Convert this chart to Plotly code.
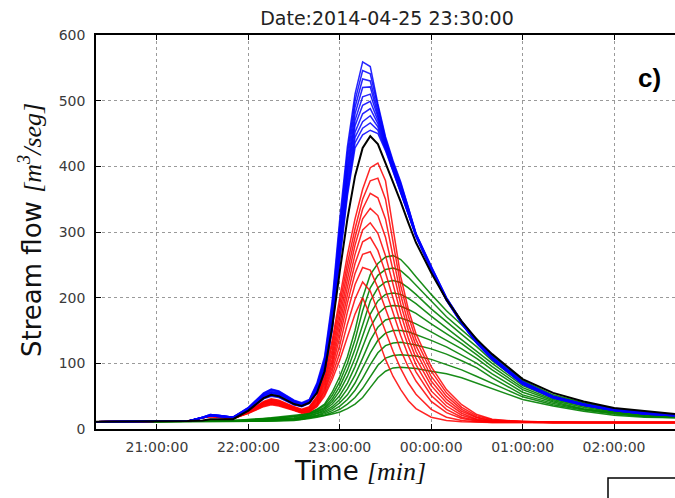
import datetime as dt
import plotly.graph_objects as go

# ---------------- data (minutes after 2014-04-25 20:00) ----------------
T_MIN = [20, 60, 80, 90, 95, 100, 110, 120, 130, 135, 140, 150, 155, 160, 165, 170, 175, 180,
         185, 190, 195, 200, 205, 210, 215, 220, 225, 230, 240, 250, 260, 270, 280, 300, 320,
         340, 360, 380, 400]

blue_members = [
    [11,11,12,18,22,21,18,33,55,61,58,44,40,45,70,110,195,320,430,510,559,552,495,445,408,376,338,298,248,200,164,134,110,72,50,38,30,25,22],
    [11,11,12,18,22,21,18,32,54,60,57,43,39,44,68,106,188,310,420,500,546,541,490,442,406,374,337,297,247,200,164,134,110,72,50,38,30,25,22],
    [11,11,12,18,21,21,18,32,53,59,56,42,39,43,66,103,182,302,410,490,533,530,485,440,404,372,335,297,246,199,163,133,109,71,49,38,29,24,21],
    [11,11,12,18,21,20,18,31,52,57,55,41,38,42,64,100,176,295,400,480,520,521,480,437,402,370,334,296,246,199,163,133,109,71,49,37,29,24,21],
    [11,11,12,17,21,20,18,31,51,56,54,41,37,42,62,97,171,288,392,470,506,510,475,435,400,368,332,296,245,198,162,132,108,70,49,37,29,24,21],
    [11,11,12,17,21,20,17,30,50,55,53,40,37,41,61,95,166,281,384,462,493,499,470,432,398,366,331,295,244,198,162,132,108,70,48,37,29,24,21],
    [11,11,12,17,20,20,17,30,49,54,52,39,36,40,59,92,161,274,376,452,480,488,465,430,396,364,330,295,244,197,161,131,107,69,48,37,28,23,20],
    [11,11,12,17,20,19,17,29,48,52,50,38,35,40,58,90,157,268,368,444,468,477,460,428,394,363,329,294,243,197,161,131,107,69,48,36,28,23,20],
    [11,11,12,17,20,19,17,29,47,51,49,37,35,39,56,88,153,262,361,436,458,466,455,426,393,362,328,294,243,196,160,130,106,68,47,36,28,23,20],
    [11,11,12,17,20,19,17,28,46,50,48,37,34,39,55,86,150,256,355,428,448,455,450,424,392,361,327,293,242,196,160,130,106,68,47,36,28,23,20],
]

red_members = [
    [11,11,12,17,20,19,16,27,42,46,44,34,30,34,50,85,135,200,265,320,365,398,405,378,305,232,182,145,95,60,37,22,15,11,10,10,10,10,10],
    [11,11,12,17,20,19,16,27,41,45,43,33,29,33,48,80,128,190,252,305,350,378,382,350,285,218,172,136,88,55,33,20,14,11,10,10,10,10,10],
    [11,11,12,17,20,19,16,26,40,44,42,33,29,32,46,76,120,180,240,292,335,359,352,320,262,204,160,127,80,50,30,18,13,11,10,10,10,10,10],
    [11,11,12,17,20,19,16,26,40,43,41,32,28,31,44,72,113,170,228,280,320,336,325,292,240,190,150,118,73,45,27,17,12,11,10,10,10,10,10],
    [11,11,12,17,20,19,16,26,39,42,40,31,28,30,42,68,106,160,216,266,303,314,298,264,220,176,138,108,66,40,24,15,12,11,10,10,10,10,10],
    [11,11,12,17,20,19,16,25,38,41,39,31,27,29,40,64,100,150,204,252,285,292,272,238,198,160,126,98,58,35,21,14,11,10,10,10,10,10,10],
    [11,11,12,17,20,19,16,25,37,40,38,30,26,28,38,60,94,140,192,237,266,270,246,212,176,142,112,87,51,30,18,13,11,10,10,10,10,10,10],
    [11,11,12,17,19,18,16,25,36,39,37,29,25,27,37,57,88,128,178,220,246,242,215,183,150,120,94,73,42,25,16,12,11,10,10,10,10,10,10],
    [11,11,12,17,19,18,16,24,35,38,36,29,25,27,35,53,81,116,160,198,224,210,180,148,118,92,70,53,30,18,13,11,10,10,10,10,10,10,10],
    [11,11,12,17,19,18,16,24,34,37,35,28,24,26,34,50,75,105,140,175,200,172,138,106,80,60,43,31,18,13,11,10,10,10,10,10,10,10,10],
]

green_members = [
    [11,11,11,11,12,12,13,14,16,17,18,20,22,25,30,38,56,80,110,150,200,235,252,262,264,258,246,232,205,180,158,137,112,74,52,40,31,26,22],
    [11,11,11,11,12,12,13,14,15,16,17,19,21,24,29,36,51,72,100,136,180,215,234,243,245,241,231,219,194,171,151,131,108,72,50,39,30,25,22],
    [11,11,11,11,11,12,12,13,15,15,16,18,20,23,27,33,46,65,90,122,160,195,215,224,226,223,215,205,183,163,144,125,104,69,49,38,29,24,21],
    [11,11,11,11,11,12,12,13,14,15,15,17,19,22,26,31,42,58,80,108,142,175,195,205,207,205,199,191,172,154,137,119,100,66,47,36,28,23,21],
    [11,11,11,11,11,11,12,13,14,14,15,16,18,21,24,29,38,51,70,95,125,155,175,186,188,187,182,176,160,145,130,113,95,63,45,35,27,22,20],
    [11,11,11,11,11,11,12,12,13,14,14,15,17,20,23,27,34,45,61,82,108,135,155,166,169,169,165,160,148,135,122,107,90,60,43,33,26,21,19],
    [11,11,11,11,11,11,12,12,13,13,14,15,16,19,21,25,31,40,52,70,92,116,135,146,150,150,148,144,135,125,113,100,84,56,41,31,25,20,18],
    [11,11,11,11,11,11,11,12,12,13,13,14,15,18,20,23,28,35,45,59,77,98,116,127,131,132,130,128,122,114,104,93,78,52,39,30,24,19,18],
    [11,11,11,11,11,11,11,12,12,12,13,14,15,17,19,21,25,30,38,48,62,80,97,108,112,113,112,111,106,98,90,80,70,49,37,29,23,19,17],
    [11,11,11,11,11,11,11,11,12,12,12,13,14,16,18,20,23,26,31,38,48,63,78,88,93,94,93,92,88,84,78,70,62,45,35,27,21,18,17],
]

observed = [11,11,12,13,15,15,15,28,47,52,50,38,35,40,55,88,155,240,320,385,428,446,434,405,376,346,314,284,238,197,164,136,114,76,55,42,32,27,23]

Y_TICKS = [0, 100, 200, 300, 400, 500, 600]
TITLE = "Date:2014-04-25 23:30:00"
PANEL = "c)"

# ---------------- figure ----------------
BASE = dt.datetime(2014, 4, 25, 20, 0)
times = [BASE + dt.timedelta(minutes=m) for m in T_MIN]

fig = go.Figure()
for vals in green_members:
    fig.add_trace(go.Scatter(x=times, y=vals, mode="lines", opacity=0.9,
                             line=dict(color="#008000", width=1.5), hoverinfo="skip"))
for vals in red_members:
    fig.add_trace(go.Scatter(x=times, y=vals, mode="lines", opacity=0.85,
                             line=dict(color="#ff0000", width=1.5), hoverinfo="skip"))
for vals in blue_members:
    fig.add_trace(go.Scatter(x=times, y=vals, mode="lines", opacity=0.85,
                             line=dict(color="#0000ff", width=1.5), hoverinfo="skip"))
fig.add_trace(go.Scatter(x=times, y=observed, mode="lines",
                         line=dict(color="#000000", width=2.0), hoverinfo="skip"))

W, H = 675, 498
L, R, T, B = 96, 0, 35, 69
pw, ph = W - L - R, H - T - B

def px_x(p):
    return (p - L) / pw

def px_y(p):
    return (H - B - p) / ph

tickfont = dict(family="DejaVu Sans", size=14, color="#3a3a3a")
fig.update_layout(
    width=W, height=H, margin=dict(l=L, r=R, t=T, b=B),
    paper_bgcolor="white", plot_bgcolor="white", showlegend=False,
    title=dict(text=TITLE, x=px_x(387), xref="paper", xanchor="center",
               y=1 - 18 / H, yref="container", yanchor="middle",
               font=dict(family="DejaVu Sans", size=19, color="#222222")),
    xaxis=dict(type="date",
               range=[BASE + dt.timedelta(minutes=20), BASE + dt.timedelta(minutes=400)],
               tick0=BASE + dt.timedelta(minutes=60), dtick=3600000, tickformat="%H:%M:%S",
               showgrid=True, gridcolor="#9a9a9a", griddash="3px,3px", gridwidth=1,
               showline=True, linecolor="black", linewidth=1.5, mirror="ticks",
               ticks="inside", ticklen=5, tickcolor="black", tickfont=tickfont,
               ticklabelstandoff=4, zeroline=False),
    yaxis=dict(range=[0, 600], tickvals=Y_TICKS,
               showgrid=True, gridcolor="#9a9a9a", griddash="3px,3px", gridwidth=1,
               showline=True, linecolor="black", linewidth=1.5, mirror=False,
               ticks="inside", ticklen=5, tickcolor="black", tickfont=tickfont,
               ticklabelstandoff=6, zeroline=False),
)

serif = "font-family:'Liberation Serif',serif;font-style:italic"
fig.add_annotation(
    text=f"Stream flow <span style=\"{serif}\">[m<sup>3</sup>/seg]</span>",
    xref="paper", yref="paper", x=px_x(30), y=px_y(230), textangle=-90,
    xanchor="center", yanchor="middle", showarrow=False,
    font=dict(family="DejaVu Sans", size=26, color="#111111"))
fig.add_annotation(
    text=f"Time <span style=\"{serif}\">[min]</span>",
    xref="paper", yref="paper", x=px_x(360), y=px_y(471),
    xanchor="center", yanchor="middle", showarrow=False,
    font=dict(family="DejaVu Sans", size=26, color="#111111"))
fig.add_annotation(
    text=f"<b>{PANEL}</b>", xref="paper", yref="paper", x=px_x(649), y=px_y(78),
    xanchor="center", yanchor="middle", showarrow=False,
    font=dict(family="Liberation Sans", size=26, color="black"))

# partially visible legend frame at bottom right
fig.add_shape(type="rect", xref="paper", yref="paper",
              x0=px_x(608), x1=px_x(690), y0=px_y(478), y1=px_y(510),
              line=dict(color="black", width=1.5), fillcolor="white")

fig.write_html("out.html")
